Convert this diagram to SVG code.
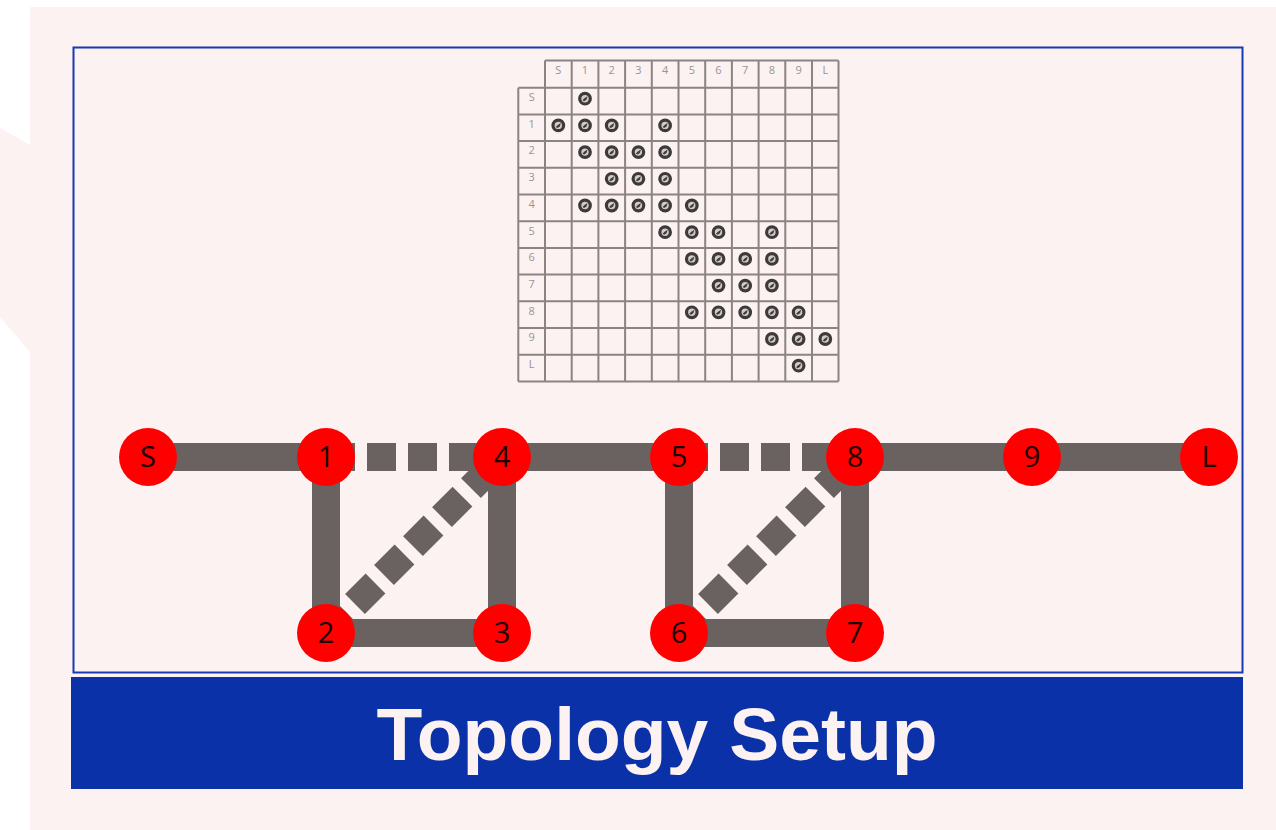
<svg xmlns="http://www.w3.org/2000/svg" width="1276" height="830" viewBox="0 0 1276 830">
<defs>
<style>
.bg{fill:#FBF2F1}
.grid{fill:none;stroke:#8C8482;stroke-width:2}
.hl{font-family:"Open Sans","Noto Sans",sans-serif;font-size:11px;fill:#9A9492;text-anchor:middle}
.edge{stroke:#6A6260;stroke-width:28;fill:none}
.dash{stroke-dasharray:29 12}
.node{fill:#FF0000}
.nl{font-family:"Open Sans","Noto Sans",sans-serif;font-size:29px;fill:#1A0000;text-anchor:middle}
.title{font-family:"Liberation Sans",Arial,sans-serif;font-weight:bold;font-size:75px;fill:#FBF2F1;text-anchor:middle}
</style>
<g id="chk">
<circle r="5.3" fill="#D0CACA" stroke="#3E3A3A" stroke-width="3.2"/>
<path d="M-2.5,1.5 L-0.5,-0.5 L2.5,-2.5 L1.5,1 L-1,2.5 Z" fill="#3E3A3A"/>
</g>
</defs>
<rect width="1276" height="830" fill="#FFFFFF"/>
<rect class="bg" x="30" y="7" width="1246" height="823"/>
<polygon class="bg" points="0,128 30,145 30,352 0,317"/>
<rect x="73.5" y="47.5" width="1169" height="625" fill="#FBF2F1" stroke="#1838B4" stroke-width="2"/>

<g id="matrix">
<path class="grid" d="M545,60.5 H838.5 M518.3,87.7 H838.5 M518.3,114.4 H838.5 M518.3,141.1 H838.5 M518.3,167.8 H838.5 M518.3,194.5 H838.5 M518.3,221.2 H838.5 M518.3,247.9 H838.5 M518.3,274.6 H838.5 M518.3,301.3 H838.5 M518.3,328 H838.5 M518.3,354.7 H838.5 M518.3,381.4 H838.5 M518.3,87.7 V381.4 M545,60.5 V381.4 M571.7,60.5 V381.4 M598.4,60.5 V381.4 M625.1,60.5 V381.4 M651.8,60.5 V381.4 M678.5,60.5 V381.4 M705.2,60.5 V381.4 M731.9,60.5 V381.4 M758.6,60.5 V381.4 M785.3,60.5 V381.4 M812,60.5 V381.4 M838.5,60.5 V381.4"/>
<g class="hl">
<text x="558.3" y="74">S</text><text x="585" y="74">1</text><text x="611.7" y="74">2</text><text x="638.4" y="74">3</text><text x="665.1" y="74">4</text><text x="691.8" y="74">5</text><text x="718.5" y="74">6</text><text x="745.2" y="74">7</text><text x="771.9" y="74">8</text><text x="798.6" y="74">9</text><text x="825.3" y="74">L</text>
<text x="531.7" y="101">S</text><text x="531.7" y="127.7">1</text><text x="531.7" y="154.4">2</text><text x="531.7" y="181.1">3</text><text x="531.7" y="207.8">4</text><text x="531.7" y="234.5">5</text><text x="531.7" y="261.2">6</text><text x="531.7" y="287.9">7</text><text x="531.7" y="314.6">8</text><text x="531.7" y="341.3">9</text><text x="531.7" y="368">L</text>
</g>
<use href="#chk" x="585" y="98.7"/>
<use href="#chk" x="558.3" y="125.4"/><use href="#chk" x="585" y="125.4"/><use href="#chk" x="611.7" y="125.4"/><use href="#chk" x="665.1" y="125.4"/>
<use href="#chk" x="585" y="152.1"/><use href="#chk" x="611.7" y="152.1"/><use href="#chk" x="638.4" y="152.1"/><use href="#chk" x="665.1" y="152.1"/>
<use href="#chk" x="611.7" y="178.8"/><use href="#chk" x="638.4" y="178.8"/><use href="#chk" x="665.1" y="178.8"/>
<use href="#chk" x="585" y="205.5"/><use href="#chk" x="611.7" y="205.5"/><use href="#chk" x="638.4" y="205.5"/><use href="#chk" x="665.1" y="205.5"/><use href="#chk" x="691.8" y="205.5"/>
<use href="#chk" x="665.1" y="232.2"/><use href="#chk" x="691.8" y="232.2"/><use href="#chk" x="718.5" y="232.2"/><use href="#chk" x="771.9" y="232.2"/>
<use href="#chk" x="691.8" y="258.9"/><use href="#chk" x="718.5" y="258.9"/><use href="#chk" x="745.2" y="258.9"/><use href="#chk" x="771.9" y="258.9"/>
<use href="#chk" x="718.5" y="285.6"/><use href="#chk" x="745.2" y="285.6"/><use href="#chk" x="771.9" y="285.6"/>
<use href="#chk" x="691.8" y="312.3"/><use href="#chk" x="718.5" y="312.3"/><use href="#chk" x="745.2" y="312.3"/><use href="#chk" x="771.9" y="312.3"/><use href="#chk" x="798.6" y="312.3"/>
<use href="#chk" x="771.9" y="339"/><use href="#chk" x="798.6" y="339"/><use href="#chk" x="825.3" y="339"/>
<use href="#chk" x="798.6" y="365.7"/>
</g>

<g id="connectors">
<line class="edge" x1="148" y1="457" x2="326" y2="457"/>
<line class="edge dash" x1="326" y1="457" x2="502" y2="457"/>
<line class="edge" x1="326" y1="457" x2="326" y2="633"/>
<line class="edge" x1="326" y1="633" x2="502" y2="633"/>
<line class="edge" x1="502" y1="633" x2="502" y2="457"/>
<line class="edge dash" x1="326" y1="633" x2="502" y2="457"/>
<line class="edge" x1="502" y1="457" x2="679" y2="457"/>
<line class="edge dash" x1="679" y1="457" x2="855" y2="457"/>
<line class="edge" x1="679" y1="457" x2="679" y2="633"/>
<line class="edge" x1="679" y1="633" x2="855" y2="633"/>
<line class="edge" x1="855" y1="633" x2="855" y2="457"/>
<line class="edge dash" x1="679" y1="633" x2="855" y2="457"/>
<line class="edge" x1="855" y1="457" x2="1032" y2="457"/>
<line class="edge" x1="1032" y1="457" x2="1209" y2="457"/>
</g>

<g id="node-S"><circle class="node" cx="148" cy="457" r="29"/><text class="nl" x="148" y="467">S</text></g>
<g id="node-1"><circle class="node" cx="326" cy="457" r="29"/><text class="nl" x="326" y="467">1</text></g>
<g id="node-4"><circle class="node" cx="502" cy="457" r="29"/><text class="nl" x="502" y="467">4</text></g>
<g id="node-5"><circle class="node" cx="679" cy="457" r="29"/><text class="nl" x="679" y="467">5</text></g>
<g id="node-8"><circle class="node" cx="855" cy="457" r="29"/><text class="nl" x="855" y="467">8</text></g>
<g id="node-9"><circle class="node" cx="1032" cy="457" r="29"/><text class="nl" x="1032" y="467">9</text></g>
<g id="node-L"><circle class="node" cx="1209" cy="457" r="29"/><text class="nl" x="1209" y="467">L</text></g>
<g id="node-2"><circle class="node" cx="326" cy="633" r="29"/><text class="nl" x="326" y="643">2</text></g>
<g id="node-3"><circle class="node" cx="502" cy="633" r="29"/><text class="nl" x="502" y="643">3</text></g>
<g id="node-6"><circle class="node" cx="679" cy="633" r="29"/><text class="nl" x="679" y="643">6</text></g>
<g id="node-7"><circle class="node" cx="855" cy="633" r="29"/><text class="nl" x="855" y="643">7</text></g>

<g id="title">
<rect x="71" y="677" width="1172" height="112" fill="#0B31A9"/>
<text class="title" x="657" y="760">Topology Setup</text>
</g>
</svg>
